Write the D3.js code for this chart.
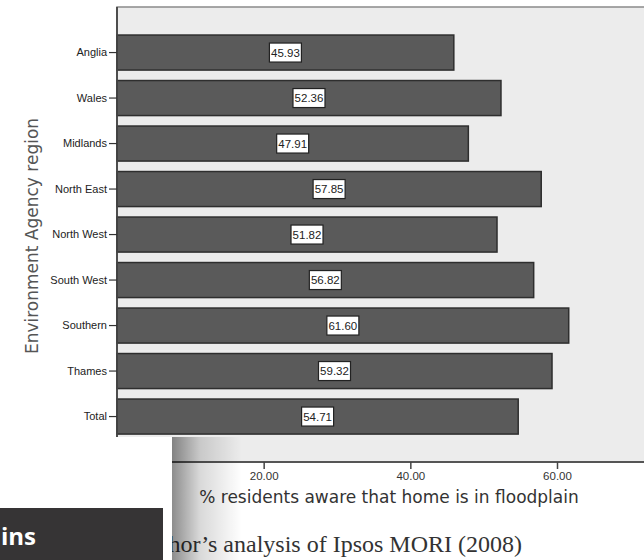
<!DOCTYPE html>
<html><head><meta charset="utf-8">
<script src="https://cdn.jsdelivr.net/npm/d3@7"></script>
<style>html,body{margin:0;padding:0;background:#fff;}svg{display:block;}</style>
</head><body>
<script>
const categories = ["Anglia","Wales","Midlands","North East","North West","South West","Southern","Thames","Total"];
const values = [45.93,52.36,47.91,57.85,51.82,56.82,61.60,59.32,54.71];
const xTicks = [20,40,60];
const xTitle = "% residents aware that home is in floodplain";
const yTitle = "Environment Agency region";
const caption = "Author\u2019s analysis of Ipsos MORI (2008)";
const boxTitle = "ins";

const W = 644, H = 560;
const svg = d3.select("body").append("svg").attr("width", W).attr("height", H);
const defs = svg.append("defs");
const grad = defs.append("linearGradient").attr("id","shadow").attr("x1","0").attr("x2","1").attr("y1","0").attr("y2","0");
grad.append("stop").attr("offset","0").attr("stop-color","#000").attr("stop-opacity",0.45);
grad.append("stop").attr("offset","0.4").attr("stop-color","#000").attr("stop-opacity",0.15);
grad.append("stop").attr("offset","1").attr("stop-color","#000").attr("stop-opacity",0);

const plot = {left:117, right:667, top:7, bottom:462};
const x = d3.scaleLinear().domain([0,75]).range([plot.left, plot.right]);
const y = d3.scaleBand().domain(categories).range([29.8, 439.3]).paddingInner(0.23).paddingOuter(0.115);

// plot background
svg.append("rect").attr("x", plot.left).attr("y", plot.top).attr("width", plot.right-plot.left).attr("height", plot.bottom-plot.top)
  .attr("fill","#ececec").attr("stroke","#8a8a8a").attr("stroke-width",1.5);

// bars
svg.append("g").selectAll("rect").data(values).join("rect")
  .attr("x", x(0)).attr("y", (d,i)=>y(categories[i]))
  .attr("width", d=>x(d)-x(0)).attr("height", y.bandwidth())
  .attr("fill","#5a5a5a").attr("stroke","#2e2e2e").attr("stroke-width",1.5);

// value labels
const lab = svg.append("g").selectAll("g").data(values).join("g")
  .attr("transform",(d,i)=>`translate(${(x(0)+x(d))/2},${y(categories[i])+y.bandwidth()/2})`);
lab.append("rect").attr("x",-16).attr("y",-9.5).attr("width",32).attr("height",19)
  .attr("fill","#fff").attr("stroke","#222").attr("stroke-width",1.2);
lab.append("text").attr("text-anchor","middle").attr("dy","0.36em")
  .attr("font-family","Liberation Sans, Arial, sans-serif").attr("font-size",11.5).attr("fill","#222")
  .text(d=>d.toFixed(2));

// y axis
const yAxis = d3.axisLeft(y).tickSize(8).tickPadding(2);
const gy = svg.append("g").attr("transform",`translate(${plot.left},0)`).call(yAxis);
gy.select(".domain").attr("d",`M0,${plot.top}V${plot.bottom}`).attr("stroke","#444").attr("stroke-width",1.8);
gy.selectAll(".tick line").attr("stroke","#333").attr("stroke-width",1.2);
gy.selectAll(".tick text").attr("font-family","Liberation Sans, Arial, sans-serif").attr("font-size",11).attr("fill","#222");

// x axis
const xAxis = d3.axisBottom(x).tickValues(xTicks).tickSize(7).tickPadding(3).tickFormat(d=>d.toFixed(2));
const gx = svg.append("g").attr("transform",`translate(0,${plot.bottom})`).call(xAxis);
gx.select(".domain").attr("d",`M${plot.left},0H${plot.right}`).attr("stroke","#555").attr("stroke-width",2);
gx.selectAll(".tick line").attr("stroke","#444").attr("stroke-width",1.5);
gx.selectAll(".tick text").attr("font-family","Liberation Sans, Arial, sans-serif").attr("font-size",11.5).attr("fill","#333");

// titles
svg.append("text").attr("x",389).attr("y",503).attr("text-anchor","middle")
  .attr("font-family","DejaVu Sans, sans-serif").attr("font-size",17).attr("fill","#333").text(xTitle);
svg.append("text").attr("transform","translate(38,236) rotate(-90)").attr("text-anchor","middle")
  .attr("font-family","DejaVu Sans, sans-serif").attr("font-size",17).attr("fill","#555").text(yTitle);

// caption
svg.append("text").attr("x",522).attr("y",552).attr("text-anchor","end")
  .attr("font-family","Liberation Serif, serif").attr("font-size",24).attr("fill","#333").text(caption);

// overlay page piece
svg.append("rect").attr("x",172).attr("y",437).attr("width",70).attr("height",H-437).attr("fill","url(#shadow)");
svg.append("rect").attr("x",0).attr("y",437).attr("width",172).attr("height",H-437).attr("fill","#fff");
svg.append("rect").attr("x",0).attr("y",508).attr("width",163).attr("height",H-508).attr("fill","#363435");
svg.append("text").attr("x",1).attr("y",545).attr("font-family","Open Sans, sans-serif").attr("font-weight","bold")
  .attr("font-size",24).attr("fill","#fff").text(boxTitle);
</script>
</body></html>
